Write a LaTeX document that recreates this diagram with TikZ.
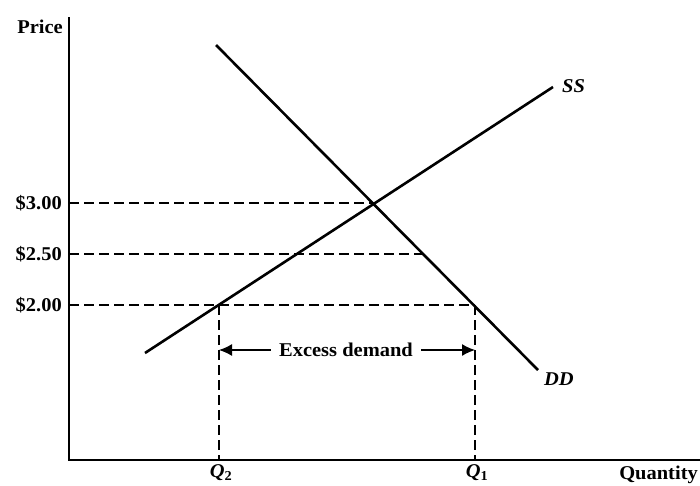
\documentclass[tikz,border=0pt]{standalone}
\usepackage{fontspec}
\setmainfont{Liberation Serif}[FakeStretch=1.05]
\usetikzlibrary{arrows.meta}
\begin{document}
\begin{tikzpicture}[x=1pt,y=-1pt,
  axis/.style={line width=1.5pt},
  curve/.style={line width=2.6pt},
  guide/.style={line width=1.3pt, dash pattern=on 10pt off 5pt},
  lbl/.style={font=\fontsize{19.5}{22}\selectfont\bfseries, inner sep=1pt},
  ilbl/.style={font=\fontsize{19.5}{22}\selectfont\bfseries\itshape, inner sep=1pt}]
\useasboundingbox (0,0) rectangle (700,485);
% axes
\coordinate (O) at (69,460);
\coordinate (Ytop) at (69,17);
\coordinate (Xend) at (700,460);
\draw[axis] (Ytop) -- (O) -- (Xend);
\node[lbl, anchor=east] (price) at (64,27) {Price};
\node[lbl, anchor=east] (qty) at (699,475) {Quantity};
% curves
\coordinate (D1) at (216,45);
\coordinate (D2) at (538,370);
\coordinate (S1) at (145,353);
\coordinate (S2) at (553,87);
\draw[curve] (D1) -- (D2);
\draw[curve] (S1) -- (S2);
\node[ilbl, anchor=west] (ss) at (561,86) {SS};
\node[ilbl, anchor=west] (dd) at (543,379) {DD};
% price guides
\coordinate (P3) at (69,203);
\coordinate (P25) at (69,254);
\coordinate (P2) at (69,305);
\coordinate (E) at (373,203);
\coordinate (D25) at (424,254);
\coordinate (S20) at (219,305);
\coordinate (D20) at (475,305);
\draw[guide] (P3) -- (E);
\draw[guide] (P25) -- (D25);
\draw[guide] (P2) -- (D20);
\node[lbl, anchor=east] (l3) at (63,203) {\$3.00};
\node[lbl, anchor=east] (l25) at (63,254) {\$2.50};
\node[lbl, anchor=east] (l2) at (63,305) {\$2.00};
% quantity guides
\coordinate (Q2b) at (219,460);
\coordinate (Q1b) at (475,460);
\draw[guide] (S20) -- (Q2b);
\draw[guide] (D20) -- (Q1b);
\node[ilbl, anchor=north] (q2) at (221,463) {Q\textsubscript{\upshape 2}};
\node[ilbl, anchor=north] (q1) at (477,463) {Q\textsubscript{\upshape 1}};
% excess demand
\coordinate (A1) at (219,350);
\coordinate (A2) at (475,350);
\node[lbl, fill=white, inner xsep=8pt] (ex) at (346,350) {Excess demand};
\draw[line width=1.3pt, -{Latex[length=13pt,width=12pt]}] (ex.west) -- (A1);
\draw[line width=1.3pt, -{Latex[length=13pt,width=12pt]}] (ex.east) -- (A2);
\end{tikzpicture}
\end{document}
